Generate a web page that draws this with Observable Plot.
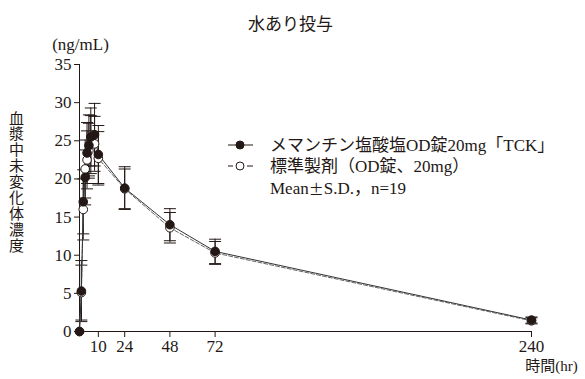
<!DOCTYPE html>
<html>
<head>
<meta charset="utf-8">
<script src="https://cdn.jsdelivr.net/npm/d3@7"></script>
<script src="https://cdn.jsdelivr.net/npm/@observablehq/plot@0.6"></script>
<style>
  body { margin: 0; background: #fff; }
  #wrap { position: relative; width: 585px; height: 379px; }
  #legend { position: absolute; left: 0; top: 0; pointer-events: none; }
</style>
</head>
<body>
<div id="wrap"></div>
<script>
// Time points (hr)
const times = [0, 1, 2, 3, 4, 5, 6, 8, 10, 24, 48, 72, 240];
// メマンチン塩酸塩OD錠20mg「TCK」 (filled)
const testMean = [0, 5.3, 17.0, 20.2, 23.4, 24.4, 25.5, 25.8, 23.2, 18.8, 14.0, 10.5, 1.5];
const testSD   = [0, 4.0, 4.2, 3.6, 4.0, 4.0, 3.8, 4.1, 3.8, 2.8, 2.1, 1.6, 0.4];
// 標準製剤（OD錠、20mg） (open)
const refMean  = [0, 5.1, 16.0, 21.3, 22.5, 23.7, 24.5, 24.6, 22.7, 18.7, 13.6, 10.3, 1.4];
const refSD    = [0, 3.6, 4.0, 3.8, 3.8, 3.6, 3.8, 3.6, 3.5, 2.6, 2.0, 1.5, 0.4];
// Axis ticks
const xTicks = [10, 24, 48, 72, 240];
const yTicks = [0, 5, 10, 15, 20, 25, 30, 35];

const test = times.map((t, i) => ({t, m: testMean[i], sd: testSD[i]}));
const ref  = times.map((t, i) => ({t, m: refMean[i], sd: refSD[i]}));

const cap = {
  draw(ctx, size) {
    const w = Math.sqrt(size / Math.PI);
    ctx.moveTo(-w, 0);
    ctx.lineTo(w, 0);
  }
};

const font = "'Liberation Serif','Noto Sans CJK JP',serif";
const ink = "#231815";

function errBars(data) {
  const d = data.filter(r => r.sd > 0);
  return [
    Plot.ruleX(d, {x: "t", y1: r => r.m - r.sd, y2: r => r.m + r.sd, stroke: ink, strokeWidth: 1}),
    Plot.dot(d, {x: "t", y: r => r.m + r.sd, symbol: cap, r: 6, stroke: ink, strokeWidth: 1, fill: "none"}),
    Plot.dot(d, {x: "t", y: r => r.m - r.sd, symbol: cap, r: 6, stroke: ink, strokeWidth: 1, fill: "none"})
  ];
}

const chart = Plot.plot({
  width: 585,
  height: 379,
  marginLeft: 79,
  marginRight: 54,
  marginTop: 64,
  marginBottom: 48,
  style: {fontFamily: font, fontSize: "17px", color: ink, background: "#fff"},
  x: {domain: [0, 240]},
  y: {domain: [0, 35]},
  marks: [
    Plot.axisX({ticks: xTicks, tickSize: 6, tickPadding: 2, label: null, fontSize: 17}),
    Plot.axisY({ticks: yTicks, tickSize: 5, tickPadding: 3, label: null, fontSize: 17}),
    Plot.ruleX([0], {stroke: ink}),
    Plot.ruleY([0], {stroke: ink}),
    ...errBars(ref),
    ...errBars(test),
    Plot.line(ref, {x: "t", y: "m", stroke: "#666", strokeWidth: 1, strokeDasharray: "4,2"}),
    Plot.line(test, {x: "t", y: "m", stroke: "#333", strokeWidth: 1}),
    Plot.dot(ref, {x: "t", y: "m", r: 4.3, fill: "#fff", stroke: ink, strokeWidth: 1}),
    Plot.dot(test, {x: "t", y: "m", r: 4.3, fill: ink, stroke: ink, strokeWidth: 1}),
    Plot.text(["水あり投与"], {text: d => d, frameAnchor: "top", dx: -15, dy: -47, fontSize: 17, fill: ink}),
    Plot.text(["(ng/mL)"], {text: d => d, frameAnchor: "top-left", dx: 1, dy: -27, textAnchor: "middle", fontSize: 17, fill: ink}),
    Plot.text(["血\n漿\n中\n未\n変\n化\n体\n濃\n度"], {text: d => d, frameAnchor: "left", dx: -63, dy: -16, textAnchor: "middle", lineHeight: 1.06, fontSize: 15, fill: ink}),
    Plot.text(["時間(hr)"], {text: d => d, frameAnchor: "bottom-right", dx: 20, dy: 39, textAnchor: "middle", fontSize: 15, fill: ink})
  ]
});

const wrap = document.getElementById("wrap");
wrap.appendChild(chart);

// Legend overlay
const ns = "http://www.w3.org/2000/svg";
const lg = document.createElementNS(ns, "svg");
lg.setAttribute("id", "legend");
lg.setAttribute("width", 585);
lg.setAttribute("height", 379);
lg.innerHTML = `
  <g font-family="${font.replace(/'/g, "&quot;")}" font-size="17" fill="${ink}">
    <line x1="228" x2="253" y1="145" y2="145" stroke="${ink}" stroke-width="1"/>
    <circle cx="240" cy="145" r="4" fill="${ink}" stroke="${ink}"/>
    <text x="270" y="145" dominant-baseline="central">メマンチン塩酸塩OD錠20mg「TCK」</text>
    <line x1="228" x2="233" y1="166" y2="166" stroke="${ink}" stroke-width="1"/>
    <line x1="247" x2="253" y1="166" y2="166" stroke="${ink}" stroke-width="1"/>
    <circle cx="240" cy="166" r="4" fill="#fff" stroke="${ink}"/>
    <text x="270" y="166" dominant-baseline="central">標準製剤（OD錠、20mg）</text>
    <text x="270" y="188" dominant-baseline="central">Mean<tspan font-family="Noto Sans CJK JP" font-size="15">±</tspan>S.D.，n=19</text>
  </g>`;
wrap.appendChild(lg);
</script>
</body>
</html>
